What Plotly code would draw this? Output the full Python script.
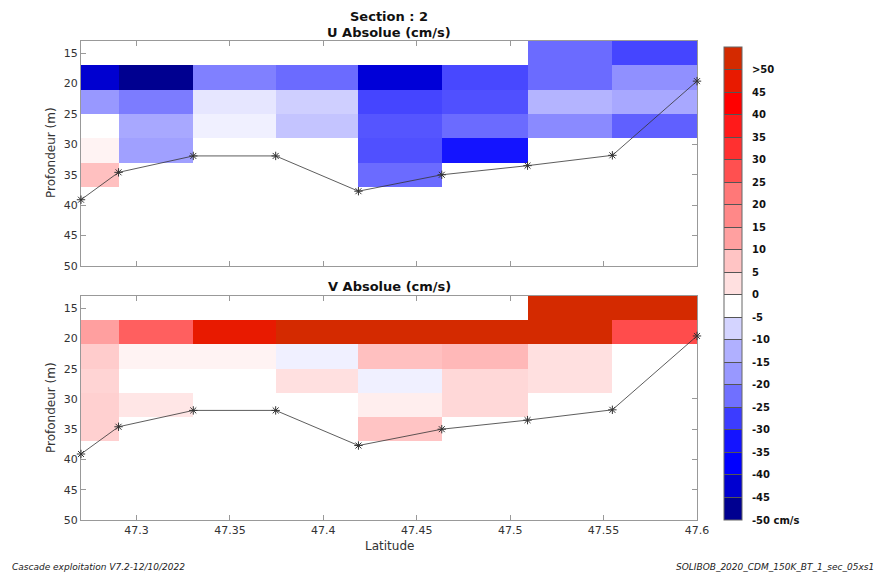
import plotly.graph_objects as go

# Station latitudes (cell edges along the section) and sounded bottom depth
lat_stations = [47.2703, 47.2904, 47.3304, 47.3745, 47.4188, 47.4634, 47.5093, 47.5547, 47.6000]
bottom_depth = [39.1, 34.6, 31.9, 31.9, 37.7, 35.0, 33.5, 31.8, 19.6]

# Depth bin edges (m)
depth_edges = [13, 17, 21, 25, 29, 33, 37]

nan = None
# Absolute current components (cm/s), one row per depth bin, one column per station interval
u_abs = [
    [nan, nan, nan, nan, nan, nan, -23.0, -26.6],
    [-42.5, -47.5, -20.5, -23.0, -41.7, -26.3, -23.0, -18.5],
    [-17.5, -21.0, -5.4, -8.2, -26.6, -25.6, -12.0, -14.2],
    [-2.5, -14.2, -4.2, -9.7, -25.1, -23.0, -19.3, -24.0],
    [-0.6, -15.8, nan, nan, -25.6, -32.5, nan, nan],
    [8.0, nan, nan, nan, -23.0, nan, nan, nan],
]
v_abs = [
    [nan, nan, nan, nan, nan, nan, 53.0, 53.0],
    [12.7, 25.6, 47.5, 52.5, 52.5, 52.5, 52.5, 28.2],
    [6.1, -0.6, -0.6, -4.2, 8.1, 9.2, 2.5, -2.5],
    [4.6, -2.5, -2.5, 2.5, -4.2, 3.9, 2.5, -2.5],
    [5.4, 1.5, nan, nan, 0.2, 3.9, nan, nan],
    [5.4, nan, nan, nan, 7.5, nan, nan, nan],
]

# Colour classes of 5 cm/s from -50 to >50
class_lower = list(range(-50, 55, 5))
class_colors = [
    "#000090", "#0000D0", "#0000FF", "#1414FF", "#3C3CFF", "#7070FF", "#9898FF",
    "#B0B0FF", "#D4D4FF", "#FFFFFF", "#FFE0E0", "#FFC4C4", "#FFA0A0", "#FF8888",
    "#FF7878", "#FF5050", "#FF3030", "#FF1A1A", "#FF0000", "#E81A00", "#D42A00",
]
tick_vals = class_lower
pad = "\u00a0\u00a0"
tick_text = [pad + "-50 cm/s"] + [pad + str(v) for v in class_lower[1:-1]] + [pad + ">50"]

zmin, zmax = -50, 55
n = len(class_colors)

# smooth palette for the cells (anchored at class centres)
smooth_scale = [[0.0, class_colors[0]]]
for i, c in enumerate(class_colors):
    smooth_scale.append([(i + 0.5) / n, c])
smooth_scale.append([1.0, class_colors[-1]])

# stepped palette for the colour bar
step_scale = []
for i, c in enumerate(class_colors):
    step_scale.append([i / n, c])
    step_scale.append([(i + 1) / n, c])

fig = go.Figure()

panels = [("x", "y", u_abs), ("x2", "y2", v_abs)]
for xa, ya, z in panels:
    fig.add_trace(go.Heatmap(
        x=lat_stations, y=depth_edges, z=z,
        colorscale=smooth_scale, zmin=zmin, zmax=zmax,
        showscale=False, xaxis=xa, yaxis=ya, hoverongaps=False,
    ))
    fig.add_trace(go.Scatter(
        x=lat_stations, y=bottom_depth, mode="lines+markers",
        line=dict(color="#333333", width=0.8),
        marker=dict(symbol="asterisk-open", size=7, line=dict(color="#333333", width=1)),
        xaxis=xa, yaxis=ya, showlegend=False, cliponaxis=False,
    ))

# colour bar carrier
fig.add_trace(go.Scatter(
    x=[None], y=[None], mode="markers", xaxis="x", yaxis="y", showlegend=False,
    marker=dict(
        color=[0], cmin=zmin, cmax=zmax, colorscale=step_scale, showscale=True,
        colorbar=dict(
            x=724 / 882, xanchor="left", xpad=0, ypad=0,
            y=1 - 283.5 / 576, yanchor="middle",
            lenmode="pixels", len=473, thicknessmode="pixels", thickness=18,
            tickvals=tick_vals, ticktext=tick_text,
            ticks="inside", ticklen=18, tickcolor="#555555", tickwidth=1,
            outlinecolor="#666666", outlinewidth=1,
            tickfont=dict(family="DejaVu Sans", size=10, color="#111111", weight="bold"),
        ),
    ),
))

x_dom = [81 / 882, 697 / 882]
axis_common = dict(
    showline=True, linecolor="#999999", linewidth=1, mirror="ticks",
    ticks="inside", ticklen=5, tickcolor="#999999", showgrid=False, zeroline=False,
    layer="below traces", tickfont=dict(family="DejaVu Sans", size=11, color="#333333"),
)
x_common = dict(axis_common, range=[47.2703, 47.6], tickvals=[47.3, 47.35, 47.4, 47.45, 47.5, 47.55, 47.6],
                ticktext=["47.3", "47.35", "47.4", "47.45", "47.5", "47.55", "47.6"])
y_common = dict(axis_common, range=[50, 13], tickvals=[15, 20, 25, 30, 35, 40, 45, 50])

fig.update_layout(
    width=882, height=576, margin=dict(l=0, r=0, t=0, b=0, autoexpand=False),
    paper_bgcolor="white", plot_bgcolor="white", showlegend=False,
    xaxis=dict(x_common, domain=x_dom, anchor="y", showticklabels=False),
    yaxis=dict(y_common, domain=[1 - 266 / 576, 1 - 41 / 576], anchor="x"),
    xaxis2=dict(x_common, domain=x_dom, anchor="y2"),
    yaxis2=dict(y_common, domain=[1 - 520 / 576, 1 - 296 / 576], anchor="x2"),
)

title_font = dict(family="DejaVu Sans", size=13, color="#111111", weight="bold")
label_font = dict(family="DejaVu Sans", size=12, color="#333333")
foot_font = dict(family="DejaVu Sans", size=9, color="#222222", style="italic")
xc = (81 + 697) / 2 / 882
annots = [
    dict(text="Section : 2", x=xc, y=1 - 17 / 576, font=title_font),
    dict(text="U Absolue (cm/s)", x=xc, y=1 - 32 / 576, font=title_font),
    dict(text="V Absolue (cm/s)", x=xc, y=1 - 286 / 576, font=title_font),
    dict(text="Latitude", x=xc, y=1 - 546 / 576, font=label_font),
    dict(text="Profondeur (m)", x=51 / 882, y=1 - 153 / 576, font=label_font, textangle=-90),
    dict(text="Profondeur (m)", x=51 / 882, y=1 - 408 / 576, font=label_font, textangle=-90),
    dict(text="Cascade exploitation V7.2-12/10/2022", x=10 / 882, y=1 - 567 / 576,
         xanchor="left", font=foot_font),
    dict(text="SOLIBOB_2020_CDM_150K_BT_1_sec_05xs1", x=876 / 882, y=1 - 567 / 576,
         xanchor="right", font=foot_font),
]
for a in annots:
    a.setdefault("xanchor", "center")
    fig.add_annotation(xref="paper", yref="paper", showarrow=False, yanchor="middle", **a)

fig.write_html("out.html")
